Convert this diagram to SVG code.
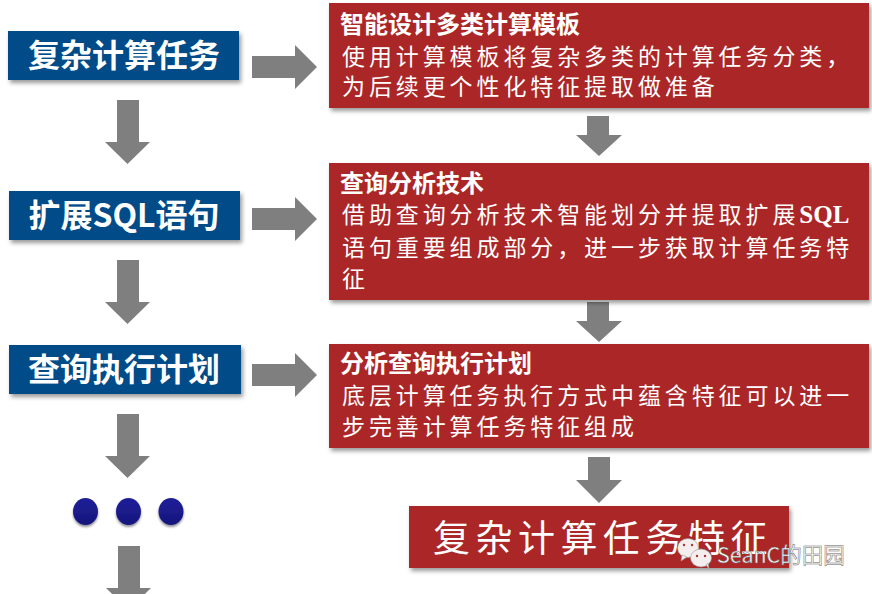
<svg xmlns="http://www.w3.org/2000/svg" width="872" height="594" viewBox="0 0 872 594">
<style>
text{font-family:"Noto Sans CJK SC","Noto Sans",sans-serif}
.blue{fill:#004c88;filter:url(#sh)}
.red{fill:#ab2725;filter:url(#sh)}
.lt{fill:#fff;font-size:32px;font-weight:700;text-anchor:middle}
.tt{fill:#fff;font-size:24px;font-weight:700}
.bd{fill:#fff;font-size:23px;letter-spacing:3.900px;font-family:"Liberation Serif","Noto Sans CJK SC",serif}
.ar{fill:#7f7f7f}
.dot{fill:url(#dg);filter:url(#sh2)}
.wm{fill:#fff;font-size:21.500px;stroke:#666;stroke-width:.5px}
.we{fill:#f5eeee;stroke:#999;stroke-width:.6}
.eye{fill:#a33}
</style>
<defs>
<filter id="sh" x="-5%" y="-10%" width="110%" height="125%"><feDropShadow dx="2" dy="3" stdDeviation="2" flood-color="#000" flood-opacity=".4"/></filter>
<filter id="sh2" x="-30%" y="-30%" width="160%" height="170%"><feDropShadow dx="0" dy="2" stdDeviation="1.2" flood-color="#223" flood-opacity=".5"/></filter>
<linearGradient id="dg" x1="0" y1="0" x2="0" y2="1"><stop offset="0" stop-color="#20209a"/><stop offset="1" stop-color="#15157c"/></linearGradient>
<path id="ra" class="ar" d="M0 11H43V0L65 22 43 44V33H0Z"/>
<path id="da" class="ar" d="M12 0H34V42H45L22.500 64 0 42H12Z"/>
<path id="sa" class="ar" d="M11 0H33V19H46L23 40 0 19H11Z"/>
</defs>
<rect width="872" height="594" fill="#fff"/>
<g id="connectors">
<use href="#ra" x="252" y="45"/>
<use href="#ra" x="252" y="197"/>
<use href="#ra" x="252" y="353"/>
<use href="#da" x="105" y="100"/>
<use href="#da" x="105" y="260"/>
<use href="#da" x="105" y="414"/>
<use href="#da" x="106" y="546"/>
<use href="#sa" x="576" y="116"/>
<use href="#sa" x="576" y="302"/>
<path class="ar" d="M588 457H610V480H622L599 503 576 480H588Z"/>
</g>
<g id="node-task"><rect class="blue" x="8" y="31" width="231" height="49"/><text class="lt" x="124" y="67">复杂计算任务</text></g>
<g id="node-sql"><rect class="blue" x="9" y="191" width="231" height="49"/><text class="lt" x="124" y="227">扩展SQL语句</text></g>
<g id="node-plan"><rect class="blue" x="9" y="345" width="232" height="49"/><text class="lt" x="124" y="381">查询执行计划</text></g>
<g id="dots">
<ellipse class="dot" cx="85.500" cy="511.500" rx="12.500" ry="13.500"/>
<ellipse class="dot" cx="128.500" cy="511.500" rx="12.500" ry="13.500"/>
<ellipse class="dot" cx="171" cy="511.500" rx="12.500" ry="13.500"/>
</g>
<g id="node-template"><rect class="red" x="329" y="3" width="540" height="105"/>
<text class="tt" x="340" y="33">智能设计多类计算模板</text>
<text class="bd" x="342" y="65">使用计算模板将复杂多类的计算任务分类，</text>
<text class="bd" x="342" y="95">为后续更个性化特征提取做准备</text></g>
<g id="node-analysis"><rect class="red" x="329" y="163" width="540" height="137"/>
<text class="tt" x="340" y="192">查询分析技术</text>
<text class="bd" x="342" y="223">借助查询分析技术智能划分并提取扩展<tspan font-weight="700" font-size="25" letter-spacing="0">SQL</tspan></text>
<text class="bd" x="342" y="256">语句重要组成部分，进一步获取计算任务特</text>
<text class="bd" x="342" y="287">征</text></g>
<g id="node-exec"><rect class="red" x="329" y="344" width="540" height="104"/>
<text class="tt" x="340" y="372">分析查询执行计划</text>
<text class="bd" x="342" y="404">底层计算任务执行方式中蕴含特征可以进一</text>
<text class="bd" x="342" y="435">步完善计算任务特征组成</text></g>
<g id="node-result"><rect class="red" x="409" y="506" width="380" height="62"/>
<text x="433" y="552" fill="#fff" style="font-size:37px;letter-spacing:5.500px;font-family:'Liberation Serif','Noto Sans CJK SC',serif">复杂计算任务特征</text></g>
<g id="watermark">
<ellipse class="we" cx="688" cy="548" rx="10.500" ry="9.500"/>
<path class="we" d="M682 555l-1 6 6-4z"/>
<ellipse class="we" cx="701" cy="558" rx="10.500" ry="9"/>
<path class="we" d="M706 565l3 4-1-6z"/>
<circle class="eye" cx="684" cy="545" r="1.200"/><circle class="eye" cx="692" cy="545" r="1.200"/>
<circle class="eye" cx="697" cy="556" r="1.200"/><circle class="eye" cx="705" cy="556" r="1.200"/>
<text class="wm" x="717" y="563">SeanC的田园</text>
</g>
</svg>
